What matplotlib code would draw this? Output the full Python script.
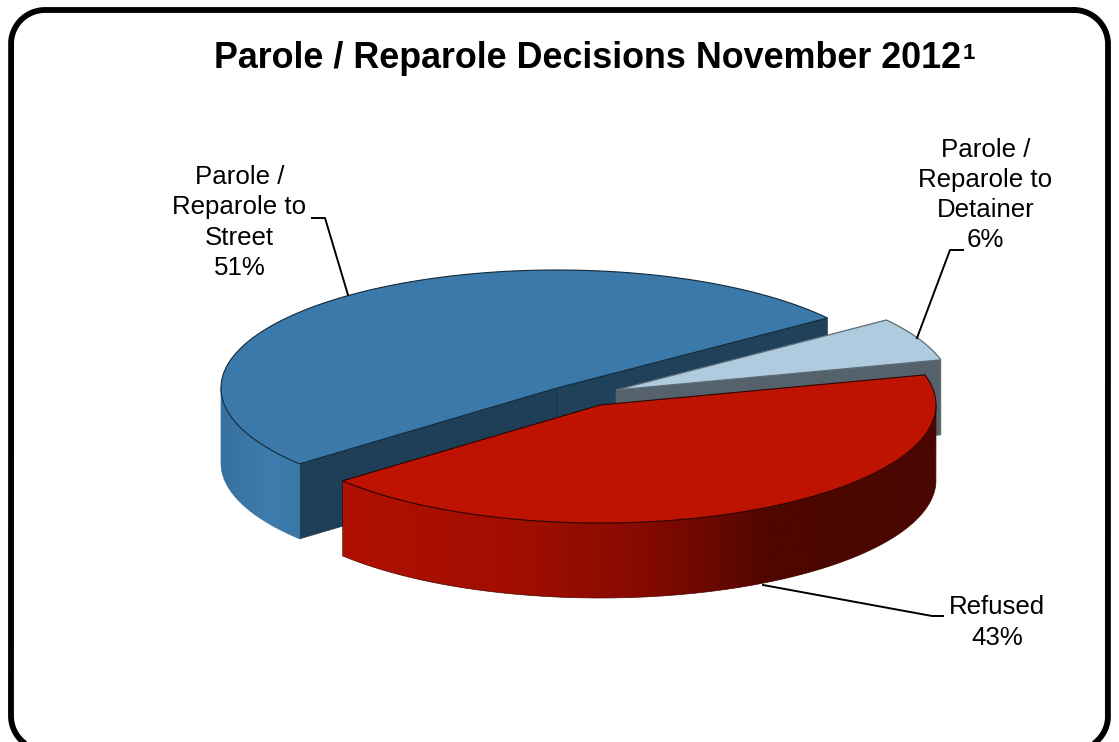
import numpy as np
import matplotlib
matplotlib.use('Agg')
import matplotlib.pyplot as plt
from matplotlib.colors import LinearSegmentedColormap
from matplotlib.patches import Polygon, PathPatch
from matplotlib.path import Path

plt.rcParams['font.family'] = ['Liberation Sans', 'DejaVu Sans']

# data
title = 'Parole / Reparole Decisions November 2012'
footnote = '1'
categories = ['Parole /\nReparole to\nStreet', 'Refused', 'Parole /\nReparole to\nDetainer']
shares = [51, 43, 6]

fig = plt.figure(figsize=(11.19, 7.42), dpi=100)
ax = fig.add_axes([0, 0, 1, 1])
ax.set_xlim(0, 1119)
ax.set_ylim(742, 0)
ax.axis('off')

# pixel layout of the fake 3d pie
A, B = 336, 118
DEPTH = 75
START = 36.4
centers = [(557, 388), (600, 405), (616, 390)]

# slice angles
sweeps = np.array(shares) / sum(shares) * 360
edges = START + np.concatenate([[0], np.cumsum(sweeps)])


def arc(c, t0, t1, dy=0, n=200):
    t = np.radians(np.linspace(t0, t1, n))
    return np.column_stack([c[0] + A * np.cos(t), c[1] + dy - B * np.sin(t)])


def side_face(c, t0, t1, d):
    top = arc(c, t0, t1)
    bottom = arc(c, t0, t1, d)[::-1]
    return np.vstack([top, bottom])


def gradient_face(pts, stops, zorder):
    # horizontal shading clipped to the side of the slice
    cmap = LinearSegmentedColormap.from_list('side', stops)
    x0, x1 = pts[:, 0].min(), pts[:, 0].max()
    y0, y1 = pts[:, 1].min(), pts[:, 1].max()
    g = np.linspace(0, 1, 256).reshape(1, -1)
    im = ax.imshow(g, cmap=cmap, extent=[x0, x1, y1, y0], aspect='auto', zorder=zorder)
    p = PathPatch(Path(np.vstack([pts, pts[:1]])), fc='none', ec='none', transform=ax.transData)
    ax.add_patch(p)
    im.set_clip_path(p)
    ax.plot(np.append(pts[:, 0], pts[0, 0]), np.append(pts[:, 1], pts[0, 1]),
            color=stops[-1][1], lw=0.5, zorder=zorder + 0.1)


# street slice
c = centers[0]
t0, t1 = edges[0], edges[1]
corner0 = arc(c, t0, t0, n=1)[0]
corner1 = arc(c, t1, t1, n=1)[0]
ax.add_patch(Polygon([corner0, c, (c[0], c[1] + DEPTH), (corner0[0], corner0[1] + DEPTH)],
                     fc='#1f4159', ec='#1f4159', lw=0.5, zorder=2))
ax.add_patch(Polygon([corner1, c, (c[0], c[1] + DEPTH), (corner1[0], corner1[1] + DEPTH)],
                     fc='#1e3f57', ec='#1e3f57', lw=0.5, zorder=2))
ax.plot([c[0], c[0]], [c[1], c[1] + DEPTH], color='#17344a', lw=0.7, zorder=2.1)
gradient_face(side_face(c, 180, t1, DEPTH), [(0, '#37709e'), (0.6, '#3d7cad'), (1, '#3a78a8')], 2)
ax.add_patch(Polygon(np.vstack([arc(c, t0, t1), c]), fc='#3a79a9', ec='#12293a', lw=0.8, zorder=3))

# detainer slice, its cut face sits under the refused slice
c = centers[2]
t0, t1 = edges[2], edges[3]
corner = arc(c, t0, t0, n=1)[0]
ax.add_patch(Polygon([c, corner, (corner[0], corner[1] + DEPTH), (c[0], c[1] + DEPTH)],
                     fc='#56626b', ec='#56626b', lw=0.5, zorder=4))
ax.add_patch(Polygon(np.vstack([arc(c, t0, t1), c]), fc='#aecbdf', ec='#5f6b74', lw=0.9, zorder=5))

# refused slice
c = centers[1]
t0, t1 = edges[1], edges[2]
gradient_face(side_face(c, t0, 360, DEPTH),
              [(0, '#b01000'), (0.3, '#a00e00'), (0.5, '#870a00'), (0.62, '#6a0800'),
               (0.72, '#4e0600'), (1, '#4a0600')], 6)
ax.add_patch(Polygon(np.vstack([arc(c, t0, t1), c]), fc='#bd1300', ec='#300400', lw=0.8, zorder=7))

# leader lines
ax.plot([348, 325, 312], [295, 218, 218], color='black', lw=1.4, zorder=8)
ax.plot([917, 950, 963], [338, 250, 250], color='black', lw=1.4, zorder=8)
ax.plot([763, 932, 943], [585, 616, 616], color='black', lw=1.4, zorder=1)

# labels
label_xy = [(239.5, 222.5), (997, 622.5), (985.5, 195)]
for name, share, (x, y) in zip(categories, shares, label_xy):
    ax.text(x, y, f'{name}\n{share}%', ha='center', va='center', fontsize=18.6,
            linespacing=1.32, color='black', zorder=9)

# title
ax.text(214, 68, title, ha='left', va='baseline', fontsize=25.8, fontweight='bold', color='black')
ax.text(963, 59, footnote, ha='left', va='baseline', fontsize=16, fontweight='bold', color='black')

# rounded frame, the bottom runs off the picture
left, right, top, bottom, r = 11, 1108, 10, 750, 34
corners = [(right - r, top + r, 270, 360), (right - r, bottom - r, 0, 90),
           (left + r, bottom - r, 90, 180), (left + r, top + r, 180, 270)]
frame_x, frame_y = [], []
for cx, cy, a0, a1 in corners:
    t = np.radians(np.linspace(a0, a1, 40))
    frame_x.extend(cx + r * np.cos(t))
    frame_y.extend(cy + r * np.sin(t))
frame_x.append(frame_x[0])
frame_y.append(frame_y[0])
ax.plot(frame_x, frame_y, color='black', lw=4.2, solid_capstyle='round', clip_on=False, zorder=10)

fig.savefig('out.png', dpi=100, facecolor='white')
